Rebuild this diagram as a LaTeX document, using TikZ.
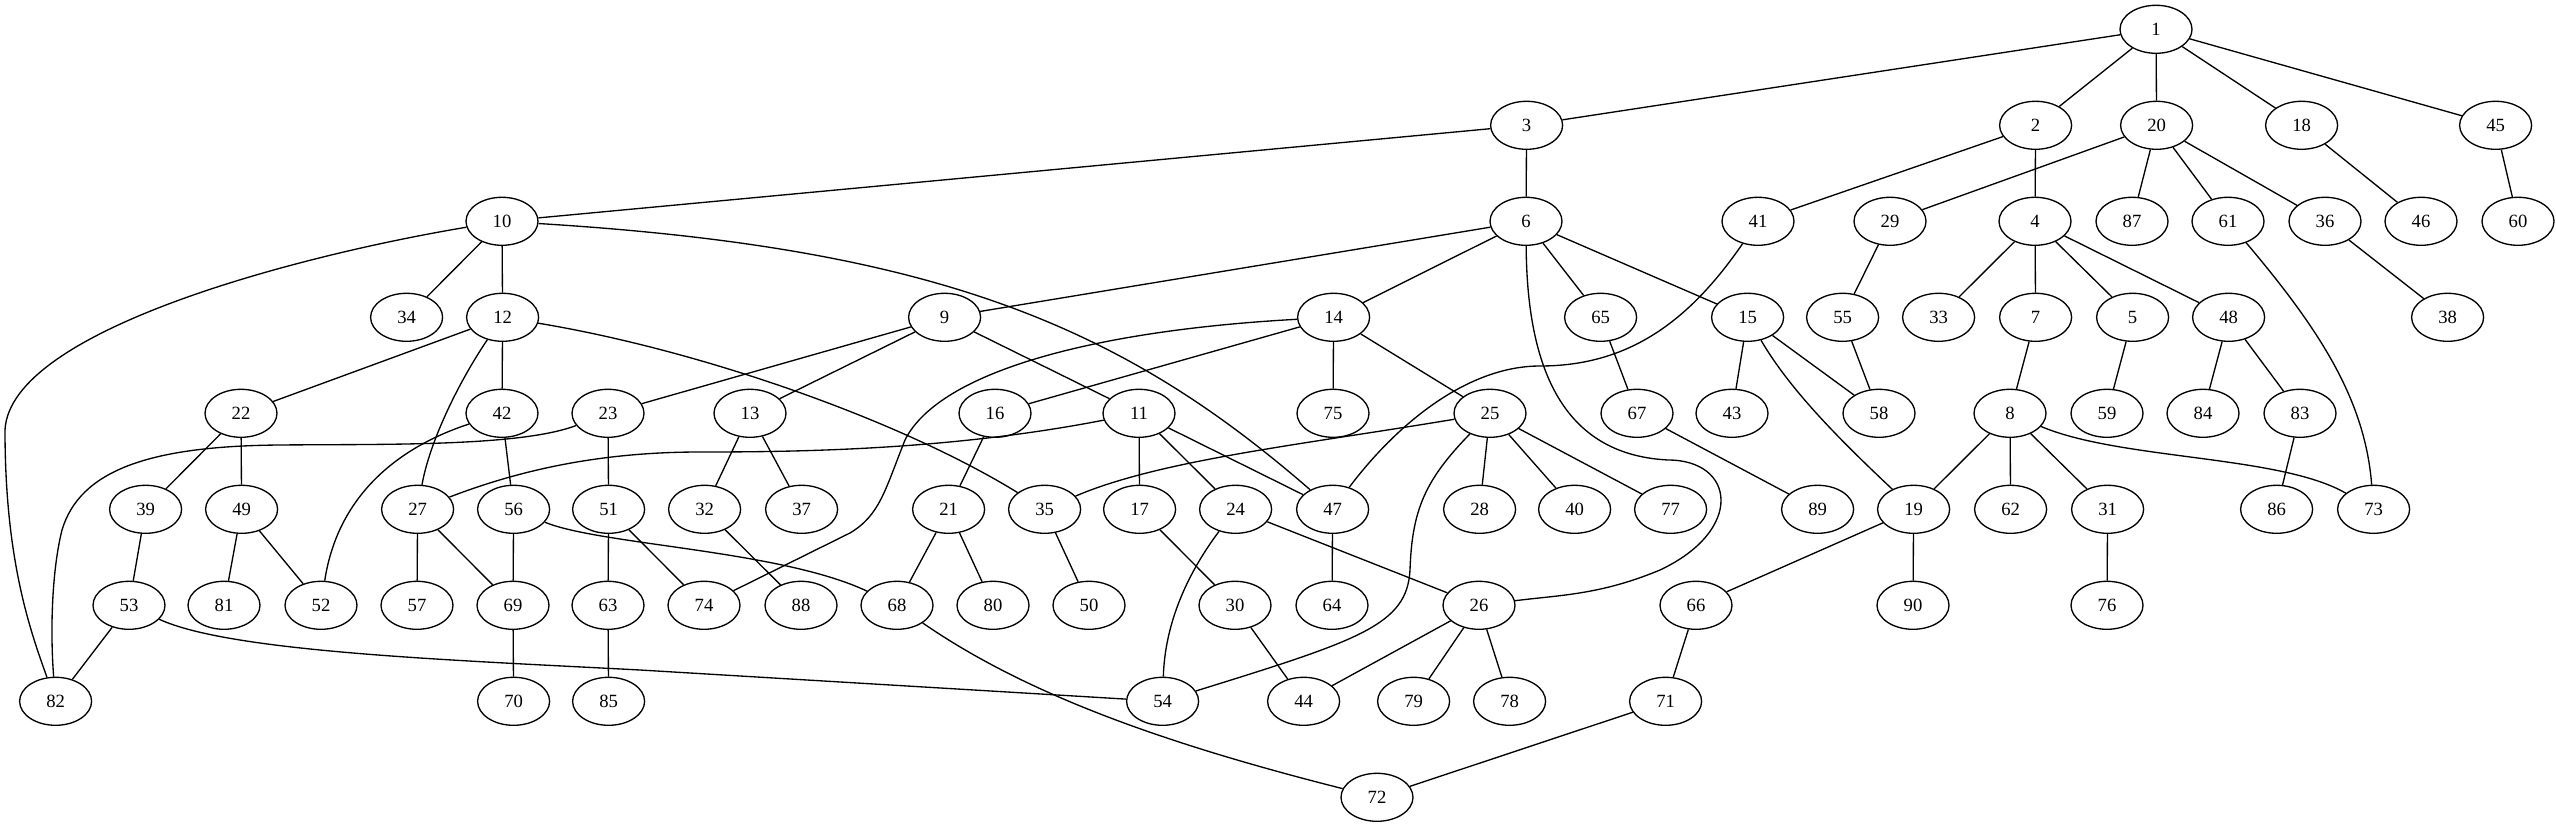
\documentclass[tikz,border=0pt]{standalone}
\usepackage{fontspec}
\setmainfont{Liberation Serif}
\usetikzlibrary{shapes.geometric}
\begin{document}
\begin{tikzpicture}[x=0.75pt,y=-0.75pt,
  v/.style={draw,ellipse,line width=1pt,minimum width=54pt,minimum height=36pt,inner sep=0pt,font=\fontsize{14}{16}\selectfont},
  every path/.style={line width=1pt}]
\useasboundingbox (0,0) rectangle (2556,827);
% rank 0
\node[v] (n1) at (2156,29.3) {1};
% rank 1
\foreach \n/\x in {3/1526,2/2035,20/2156,18/2301,45/2495}
  \node[v] (n\n) at (\x+0.6,125.3) {\n};
% rank 2
\foreach \n/\x in {10/502,6/1526,41/1758,29/1890,4/2035,87/2132,61/2228,36/2325,46/2421,60/2518}
  \node[v] (n\n) at (\x,221.3) {\n};
% rank 3
\foreach \n/\x in {34/406,12/502,9/944,14/1333,65/1600,15/1747,55/1842,33/1938,7/2035,5/2132,48/2228,38/2447}
  \node[v] (n\n) at (\x+0.6,317.3) {\n};
% rank 4
\foreach \n/\x in {22/241,42/502,23/608,13/750,16/995,11/1139,75/1333,25/1490,67/1637,43/1732,58/1879,8/2010,59/2107,84/2203,83/2300}
  \node[v] (n\n) at (\x,413.3) {\n};
% rank 5
\foreach \n/\x in {39/145,49/241,27/417,56/513,51/608,32/704,37/801,21/948,35/1044,17/1139,24/1235,47/1332,28/1479,40/1574,77/1670,89/1817,19/1913,62/2010,31/2107,86/2276,73/2373}
  \node[v] (n\n) at (\x+0.6,509.3) {\n};
% rank 6
\foreach \n/\x in {53/129,81/224,52/321,57/417,69/513,63/608,74/704,88/801,68/897,80/993,50/1089,30/1235,64/1332,26/1479,66/1696,90/1913,76/2107}
  \node[v] (n\n) at (\x,605.3) {\n};
% rank 7
\foreach \n/\x in {82/55,70/513,85/608,54/1162,44/1303,79/1413,78/1509,71/1665}
  \node[v] (n\n) at (\x+0.6,701.3) {\n};
% rank 8
\node[v] (n72) at (1377,797.3) {72};
% straight edges
\foreach \a/\b in {1/3,1/2,1/20,1/18,1/45,3/10,3/6,2/41,2/4,20/29,20/87,20/61,20/36,
  18/46,45/60,10/34,10/12,6/9,6/14,6/65,6/15,29/55,4/33,4/7,4/5,4/48,36/38,
  12/22,12/42,9/23,9/13,9/11,14/16,14/75,14/25,65/67,15/43,15/58,
  55/58,7/8,5/59,48/84,48/83,22/39,22/49,42/56,23/51,13/32,13/37,16/21,
  11/17,11/24,11/47,25/28,25/40,25/77,67/89,8/19,8/62,8/31,
  83/86,39/53,49/81,49/52,27/57,27/69,56/69,51/63,51/74,32/88,21/68,21/80,
  35/50,17/30,24/26,47/64,19/66,19/90,31/76,53/82,69/70,63/85,30/44,26/44,
  26/79,26/78,66/71,71/72}
  \draw (n\a) -- (n\b);
% curved edges
\draw (n10) .. controls (300,255) and (10,330) .. (5,430) .. controls (5,560) and (30,630) .. (n82);
\draw (n10) .. controls (938,248) and (1123,327) .. (n47);
\draw (n6) .. controls (1527,380) and (1570,455) .. (1668,460) .. controls (1735,460) and (1745,530) .. (1660,570) .. controls (1600,595) and (1560,595) .. (n26);
\draw (n41) .. controls (1690,320) and (1630,366) .. (1540,366) .. controls (1470,366) and (1400,420) .. (n47);
\draw (n61) .. controls (2320,330) and (2365,400) .. (n73);
\draw (n14) .. controls (1100,330) and (940,370) .. (905,440) .. controls (885,490) and (880,515) .. (850,533) -- (n74);
\draw (n12) .. controls (460,380) and (430,440) .. (n27);
\draw (n42) .. controls (420,440) and (340,480) .. (n52);
\draw (n23) .. controls (520,447) and (380,444) .. (280,445) .. controls (150,446) and (80,470) .. (62,530) .. controls (52,570) and (50,630) .. (n82);
\draw (n11) .. controls (950,450) and (800,452) .. (700,452) .. controls (600,452) and (520,470) .. (n27);
\draw (n25) .. controls (1300,445) and (1160,460) .. (n35);
\draw (n25) .. controls (1425,480) and (1412,510) .. (1410,570) .. controls (1407,625) and (1360,640) .. (n54);
\draw (n24) .. controls (1190,570) and (1165,620) .. (n54);
\draw (n56) .. controls (600,545) and (780,550) .. (n68);
\draw (n53) .. controls (230,652) and (450,660) .. (640,670) -- (n54);
\draw (n68) .. controls (1020,690) and (1150,740) .. (n72);
\draw (n8) .. controls (2120,460) and (2280,455) .. (n73);
\draw (n12) .. controls (700,350) and (900,420) .. (n35);
\draw (n15) .. controls (1790,390) and (1840,440) .. (n19);
\end{tikzpicture}
\end{document}
